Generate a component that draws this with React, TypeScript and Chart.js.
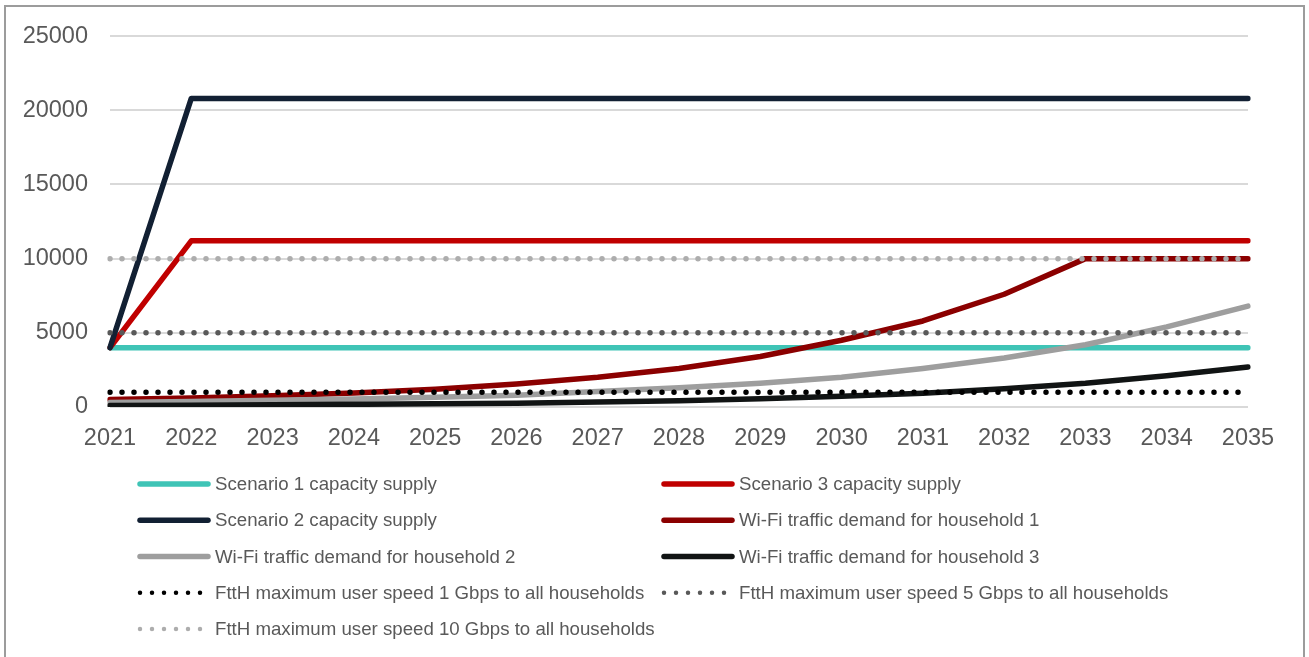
import React, { useEffect, useRef } from "react";
import { Chart, registerables } from "chart.js";

Chart.register(...registerables);

const years = ["2021", "2022", "2023", "2024", "2025", "2026", "2027", "2028", "2029", "2030", "2031", "2032", "2033", "2034", "2035"];

const seriesNames = [
  "Scenario 1 capacity supply",
  "Scenario 3 capacity supply",
  "Scenario 2 capacity supply",
  "Wi-Fi traffic demand for household 1",
  "Wi-Fi traffic demand for household 2",
  "Wi-Fi traffic demand for household 3",
  "FttH maximum user speed 1 Gbps to all households",
  "FttH maximum user speed 5 Gbps to all households",
  "FttH maximum user speed 10 Gbps to all households",
];

const scenario1 = [4000, 4000, 4000, 4000, 4000, 4000, 4000, 4000, 4000, 4000, 4000, 4000, 4000, 4000, 4000];
const scenario3 = [4000, 11200, 11200, 11200, 11200, 11200, 11200, 11200, 11200, 11200, 11200, 11200, 11200, 11200, 11200];
const scenario2 = [4000, 20800, 20800, 20800, 20800, 20800, 20800, 20800, 20800, 20800, 20800, 20800, 20800, 20800, 20800];
const household1 = [500, 600, 750, 950, 1200, 1550, 2000, 2600, 3400, 4500, 5800, 7600, 10000, 10000, 10000];
const household2 = [300, 370, 450, 540, 650, 800, 1050, 1300, 1600, 2000, 2600, 3300, 4200, 5400, 6800];
const household3 = [100, 120, 150, 180, 220, 260, 330, 420, 550, 720, 930, 1230, 1600, 2100, 2700];
const ftth1 = [1000, 1000, 1000, 1000, 1000, 1000, 1000, 1000, 1000, 1000, 1000, 1000, 1000, 1000, 1000];
const ftth5 = [5000, 5000, 5000, 5000, 5000, 5000, 5000, 5000, 5000, 5000, 5000, 5000, 5000, 5000, 5000];
const ftth10 = [10000, 10000, 10000, 10000, 10000, 10000, 10000, 10000, 10000, 10000, 10000, 10000, 10000, 10000, 10000];

const yTicks = [0, 5000, 10000, 15000, 20000, 25000];

const seriesValues = [scenario1, scenario3, scenario2, household1, household2, household3, ftth1, ftth5, ftth10];
const seriesColors = ["#3FC4B6", "#C00000", "#122033", "#8B0000", "#9E9E9E", "#111414", "#000000", "#595959", "#ADADAD"];
const seriesDotted = [false, false, false, false, false, false, true, true, true];

const FONT = '"Liberation Sans", Arial, sans-serif';
const TEXT_COLOR = "#595959";

const legendPlugin = {
  id: "columnLegend",
  afterDraw(chart: any) {
    const ctx = chart.ctx as CanvasRenderingContext2D;
    const colX = [138, 662];
    const top = 484;
    const rowH = 36.25;
    ctx.save();
    ctx.font = `18.67px ${FONT}`;
    ctx.textBaseline = "middle";
    ctx.textAlign = "left";
    chart.data.datasets.forEach((ds: any, i: number) => {
      const x0 = colX[i % 2];
      const y = top + Math.floor(i / 2) * rowH;
      ctx.strokeStyle = ds.borderColor;
      ctx.lineCap = "round";
      ctx.beginPath();
      if (ds.dotted) {
        ctx.lineWidth = 4.5;
        ctx.setLineDash([0, 12]);
        ctx.moveTo(x0 + 2, y);
        ctx.lineTo(x0 + 63, y);
      } else {
        ctx.lineWidth = 5.5;
        ctx.setLineDash([]);
        ctx.moveTo(x0 + 2, y);
        ctx.lineTo(x0 + 70, y);
      }
      ctx.stroke();
      ctx.setLineDash([]);
      ctx.fillStyle = TEXT_COLOR;
      ctx.fillText(ds.label, x0 + 77, y + 1);
    });
    ctx.restore();
  },
};

export default function App() {
  const canvasRef = useRef<HTMLCanvasElement | null>(null);

  useEffect(() => {
    if (!canvasRef.current) return;
    const datasets = seriesNames.map((name, i) => ({
      label: name,
      data: seriesValues[i],
      borderColor: seriesColors[i],
      backgroundColor: seriesColors[i],
      borderWidth: seriesDotted[i] ? 5.5 : 5.5,
      borderDash: seriesDotted[i] ? [0, 12] : [],
      borderCapStyle: "round" as const,
      borderJoinStyle: "round" as const,
      pointRadius: 0,
      pointHoverRadius: 0,
      tension: 0,
      fill: false,
      order: seriesNames.length - i,
      dotted: seriesDotted[i],
    }));

    const chart = new Chart(canvasRef.current, {
      type: "line",
      data: { labels: years, datasets: datasets as any },
      options: {
        animation: false,
        responsive: false,
        devicePixelRatio: 1,
        layout: { padding: { left: 0, right: 61, top: 36, bottom: 0 } },
        plugins: {
          legend: { display: false },
          tooltip: { enabled: false },
        },
        scales: {
          x: {
            type: "category",
            offset: false,
            grid: { display: false, drawTicks: false },
            border: { display: false },
            ticks: {
              color: TEXT_COLOR,
              font: { family: FONT, size: 23.5 },
              padding: 17,
              maxRotation: 0,
              autoSkip: false,
            },
            afterFit: (scale: any) => {
              scale.height = 250;
            },
          },
          y: {
            min: 0,
            max: 25000,
            afterBuildTicks: (scale: any) => {
              scale.ticks = yTicks.map((v) => ({ value: v }));
            },
            grid: { color: "#D9D9D9", lineWidth: 2, drawTicks: false },
            border: { display: false },
            ticks: {
              color: TEXT_COLOR,
              font: { family: FONT, size: 23.5 },
              padding: 22,
              callback: (value: any) => String(value),
            },
            afterFit: (scale: any) => {
              scale.width = 110;
            },
          },
        },
      },
      plugins: [legendPlugin],
    });
    return () => chart.destroy();
  }, []);

  return (
    <div style={{ position: "fixed", left: 0, top: 0, width: 1309, height: 657, background: "#FFFFFF", overflow: "hidden" }}>
      <canvas ref={canvasRef} width={1309} height={657} style={{ position: "absolute", left: 0, top: 0, width: 1309, height: 657 }} />
      <div
        style={{
          position: "absolute",
          left: 4,
          top: 5,
          width: 1301,
          height: 720,
          boxSizing: "border-box",
          border: "2px solid #9C9C9C",
          pointerEvents: "none",
        }}
      />
    </div>
  );
}
